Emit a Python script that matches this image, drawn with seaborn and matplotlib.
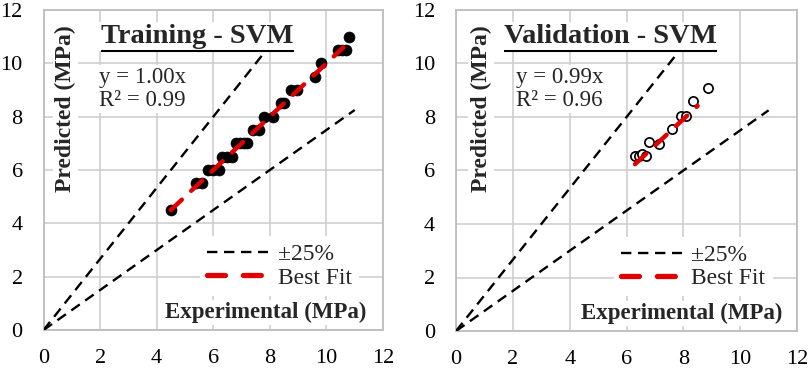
import numpy as np
import pandas as pd
import matplotlib
matplotlib.use("Agg")
import matplotlib.pyplot as plt
import seaborn as sns
from matplotlib.lines import Line2D

# ---------------- data ----------------
train_exp = [4.5, 5.4, 5.6, 5.8, 6.0, 6.2, 6.3, 6.5, 6.65, 6.8, 6.95, 7.1, 7.2,
             7.4, 7.6, 7.8, 8.1, 8.4, 8.5, 8.75, 8.95, 9.6, 9.8, 10.4, 10.55, 10.7, 10.8]
train_pred = [4.5, 5.5, 5.5, 6.0, 6.0, 6.0, 6.5, 6.5, 6.5, 7.0, 7.0, 7.0, 7.0,
              7.5, 7.5, 8.0, 8.0, 8.5, 8.5, 9.0, 9.0, 9.5, 10.0, 10.5, 10.5, 10.5, 11.0]
val_exp = [6.3, 6.45, 6.55, 6.7, 6.8, 7.15, 7.6, 7.9, 8.1, 8.35, 8.85]
val_pred = [6.55, 6.55, 6.6, 6.55, 7.05, 7.0, 7.55, 8.05, 8.05, 8.6, 9.1]

train_slope, train_r2 = 1.00, 0.99
val_slope, val_r2 = 0.99, 0.96
train_fit_x = [4.5, 10.6]
val_fit_x = [6.3, 8.5]

upper_x = [0, 7.75]
upper_y = [0, 10.33]
lower_x = [0, 11.0]
lower_y = [0, 8.25]

ticks = [0, 2, 4, 6, 8, 10, 12]
titles = ["Training - SVM", "Validation - SVM"]
xlabel = "Experimental (MPa)"
ylabel = "Predicted (MPa)"
legend_labels = ["\u00b125%", "Best Fit"]

# ---------------- style ----------------
sns.set_theme(style="white")
plt.rcParams["font.family"] = ["Liberation Serif", "DejaVu Serif"]

fig = plt.figure(figsize=(8.09, 3.70), dpi=100)
ax1 = fig.add_axes([0.0538, 0.108, 0.4196, 0.865])
ax2 = fig.add_axes([0.5637, 0.1054, 0.4215, 0.8676])

GRID = "#cfcfcf"
FRAME = "#bdbdbd"
RED = "#e10000"
BLACK_DASH = (0, (4.4, 2.8))
RED_DASH = (0, (3.4, 2.9))

panels = [
    (ax1, train_exp, train_pred, train_slope, train_r2, train_fit_x, titles[0], True),
    (ax2, val_exp, val_pred, val_slope, val_r2, val_fit_x, titles[1], False),
]

title_texts = []
for ax, xe, yp, slope, r2, fitx, title, filled in panels:
    ax.set_xlim(0, 12)
    ax.set_ylim(0, 12)
    ax.set_xticks(ticks)
    ax.set_yticks(ticks)
    ax.set_xticklabels([str(t) for t in ticks])
    ax.set_yticklabels([str(t) for t in ticks])
    ax.grid(True, color=GRID, linewidth=1.2, zorder=0)
    ax.set_axisbelow(True)
    for s in ax.spines.values():
        s.set_visible(True)
        s.set_color(FRAME)
        s.set_linewidth(1.3)
    ax.tick_params(axis="x", length=0, pad=14, labelsize=16, colors="black")
    ax.tick_params(axis="y", length=0, pad=15, labelsize=16, colors="black")

    # +-25% lines
    sns.lineplot(x=upper_x, y=upper_y, ax=ax, color="black", linewidth=1.7,
                 linestyle=BLACK_DASH, estimator=None, sort=False, zorder=3)
    sns.lineplot(x=lower_x, y=lower_y, ax=ax, color="black", linewidth=1.7,
                 linestyle=BLACK_DASH, estimator=None, sort=False, zorder=3)

    # data points
    df = pd.DataFrame({"exp": xe, "pred": yp})
    if filled:
        sns.scatterplot(data=df, x="exp", y="pred", ax=ax, s=62, color="black",
                        edgecolor="black", linewidth=0.5, zorder=4, legend=False)
    else:
        sns.scatterplot(data=df, x="exp", y="pred", ax=ax, s=44, facecolor="white",
                        edgecolor="black", linewidth=1.25, zorder=4, legend=False)

    # best fit
    fx = np.array(fitx)
    sns.lineplot(x=fx, y=slope * fx, ax=ax, color=RED, linewidth=3.2,
                 linestyle=RED_DASH, estimator=None, sort=False, zorder=5,
                 dash_capstyle="round")
    ax.set_xlabel("")
    ax.set_ylabel("")

    wb = dict(facecolor="white", edgecolor="none", pad=1.5)
    t = ax.text(5.44, 11.0, title, ha="center", va="center", fontsize=20.5,
                fontweight="bold", zorder=6, bbox=wb)
    title_texts.append((ax, t))
    eqx = 1.96 if filled else 2.1
    ax.text(eqx, 9.48, f"y = {slope:.2f}x", ha="left", va="center",
            fontsize=16.5, zorder=6, bbox=wb)
    ax.text(eqx, 8.62, f"R\u00b2 = {r2:.2f}", ha="left", va="center",
            fontsize=16.5, zorder=6, bbox=wb)
    ax.text(0.78 if filled else 0.88, 8.3, ylabel, rotation=90, ha="center",
            va="center", fontsize=17, fontweight="bold", zorder=6, bbox=wb)
    ax.text(7.84 if filled else 7.93, 0.66, xlabel, ha="center", va="center",
            fontsize=16.5, fontweight="bold", zorder=6, bbox=wb)

    handles = [
        Line2D([], [], color="black", linewidth=1.7, linestyle=BLACK_DASH),
        Line2D([], [], color=RED, linewidth=3.8, linestyle=(0, (3.4, 3.4)),
               dash_capstyle="round"),
    ]
    leg = ax.legend(handles, legend_labels, loc="center",
                    bbox_to_anchor=(0.695, 0.2), frameon=True, fontsize=17,
                    handlelength=2.6, handletextpad=0.4, labelspacing=0.08,
                    borderpad=0.3, borderaxespad=0)
    leg.get_frame().set_facecolor("white")
    leg.get_frame().set_edgecolor("none")
    leg.get_frame().set_alpha(1.0)
    leg.set_zorder(6)

# underline titles
fig.canvas.draw()
renderer = fig.canvas.get_renderer()
for ax, t in title_texts:
    bb = t.get_window_extent(renderer=renderer)
    inv = ax.transData.inverted()
    (x0, _), (x1, _) = inv.transform([(bb.x0, bb.y0), (bb.x1, bb.y0)])
    ax.plot([x0, x1], [10.45, 10.45], color="black", linewidth=1.5, zorder=7,
            solid_capstyle="butt")

fig.savefig("out.png", dpi=100)
